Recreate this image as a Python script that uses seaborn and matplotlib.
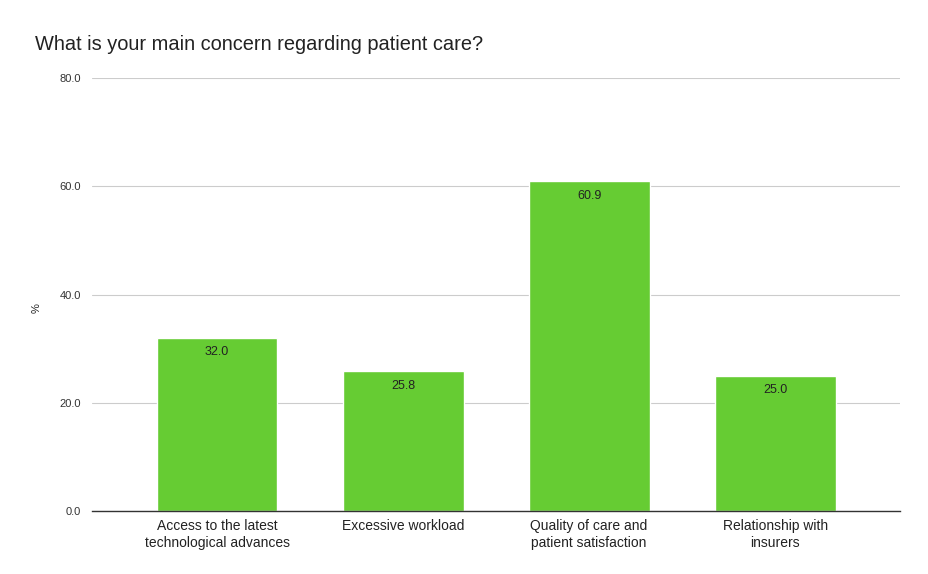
import matplotlib
matplotlib.use("Agg")
import matplotlib.pyplot as plt
import seaborn as sns
import pandas as pd

categories = [
    "Access to the latest\ntechnological advances",
    "Excessive workload",
    "Quality of care and\npatient satisfaction",
    "Relationship with\ninsurers",
]
values = [32.0, 25.8, 60.9, 25.0]
yticks = [0, 20, 40, 60, 80]

sns.set_theme(style="white")
plt.rcParams["font.family"] = ["Liberation Sans", "DejaVu Sans"]

df = pd.DataFrame({"category": categories, "pct": values})

fig = plt.figure(figsize=(9.29, 5.74), dpi=100)
ax = fig.add_axes([0.099, 0.1098, 0.87, 0.7542])

sns.barplot(data=df, x="category", y="pct", color="#66cc33", saturation=1,
            width=0.65, ax=ax)

for i, v in enumerate(values):
    ax.text(i, v - 2.7, f"{v:.1f}", ha="center", va="center", fontsize=9,
            color="#222222")

ax.set_ylim(0, 80)
ax.set_xlim(-0.672, 3.672)
ax.set_yticks(yticks)
ax.set_yticklabels([f"{t:.1f}" for t in yticks], fontsize=8, color="#333333")
ax.tick_params(axis="x", labelsize=10, colors="#222222", length=0, pad=6)
ax.tick_params(axis="y", length=0, pad=8)
ax.yaxis.grid(True, color="#cccccc", linewidth=0.8)
ax.set_axisbelow(True)
for s in ["top", "right", "left"]:
    ax.spines[s].set_visible(False)
ax.spines["bottom"].set_color("#333333")
ax.spines["bottom"].set_linewidth(1.0)
ax.set_xlabel("")
ax.set_ylabel("")

fig.text(37 / 929, 1 - 308 / 574, "%", fontsize=8, color="#222222",
         rotation=90, ha="center", va="center")
fig.text(35 / 929, 1 - 44 / 574, "What is your main concern regarding patient care?",
         fontsize=14.4, color="#222222", ha="left", va="center")

fig.savefig("out.png", dpi=100)
